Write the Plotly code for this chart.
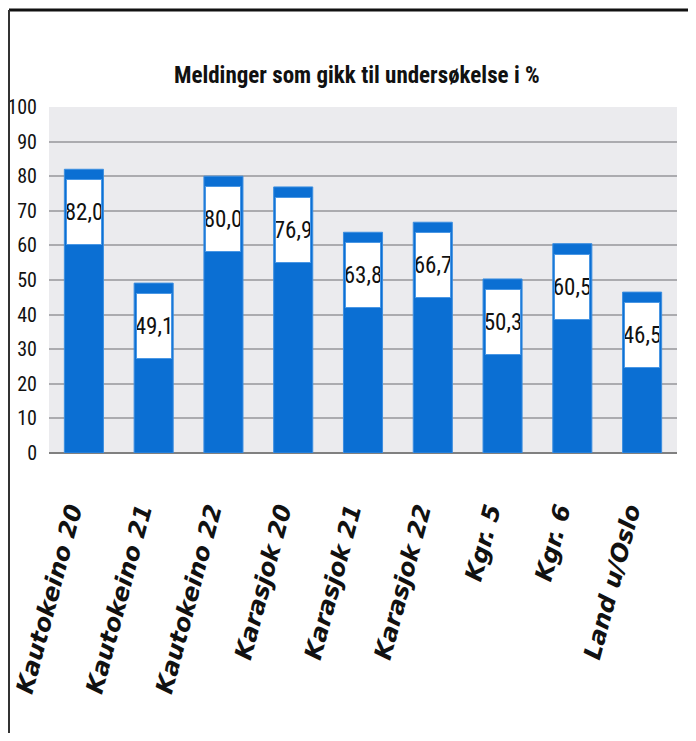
import plotly.graph_objects as go

categories = ["Kautokeino 20", "Kautokeino 21", "Kautokeino 22", "Karasjok 20",
              "Karasjok 21", "Karasjok 22", "Kgr. 5", "Kgr. 6", "Land u/Oslo"]
values = [82.0, 49.1, 80.0, 76.9, 63.8, 66.7, 50.3, 60.5, 46.5]
y_ticks = list(range(0, 101, 10))
title_text = "Meldinger som gikk til undersøkelse i %"

BLUE = "#0b6fd3"
COND = "Roboto Condensed, DejaVu Sans Condensed, sans-serif"

fig = go.Figure()
fig.add_trace(go.Bar(
    x=categories, y=values,
    marker=dict(color=BLUE, line=dict(color="#3d8fe0", width=1)),
    width=0.56, hoverinfo="x+y",
))

for c, v in zip(categories, values):
    fig.add_annotation(
        x=c, y=v, xref="x", yref="y", yanchor="top", yshift=-10,
        text=f"{v:.1f}".replace(".", ","), showarrow=False,
        width=34, height=64, bgcolor="white", bordercolor="#4a97e4",
        borderwidth=1, borderpad=0,
        font=dict(family=COND, size=23, color="#111111"),
    )

fig.update_layout(
    width=680, height=725,
    margin=dict(l=41, r=11, t=99, b=280),
    paper_bgcolor="white", plot_bgcolor="#ebebee",
    showlegend=False,
    title=dict(text=title_text, x=0.513, xanchor="center", y=0.908, yanchor="middle",
               font=dict(family=COND, size=23, color="#111111", weight="bold")),
    xaxis=dict(
        automargin=False,
        tickangle=-75, showgrid=False, showline=False, ticks="",
        tickfont=dict(family="DejaVu Sans, sans-serif", size=24, color="#111111",
                      weight="bold", style="italic"),
        ticklabelstandoff=38, ticklabelshift=-13,
    ),
    yaxis=dict(
        automargin=False,
        range=[0, 100], tickvals=y_ticks, showgrid=True, gridcolor="#ababaf",
        gridwidth=1.5, zeroline=True, zerolinecolor="#808080", zerolinewidth=2,
        tickfont=dict(family=COND, size=20, color="#111111"),
        ticks="", ticklabelstandoff=11,
    ),
    shapes=[
        dict(type="line", xref="paper", yref="paper", x0=-0.0637, x1=1.05,
             y0=1.280, y1=1.280, line=dict(color="#111111", width=3)),
        dict(type="line", xref="paper", yref="paper", x0=-0.0637, x1=-0.0637,
             y0=1.280, y1=-0.85, line=dict(color="#333333", width=2)),
    ],
)

fig.write_html("out.html")
